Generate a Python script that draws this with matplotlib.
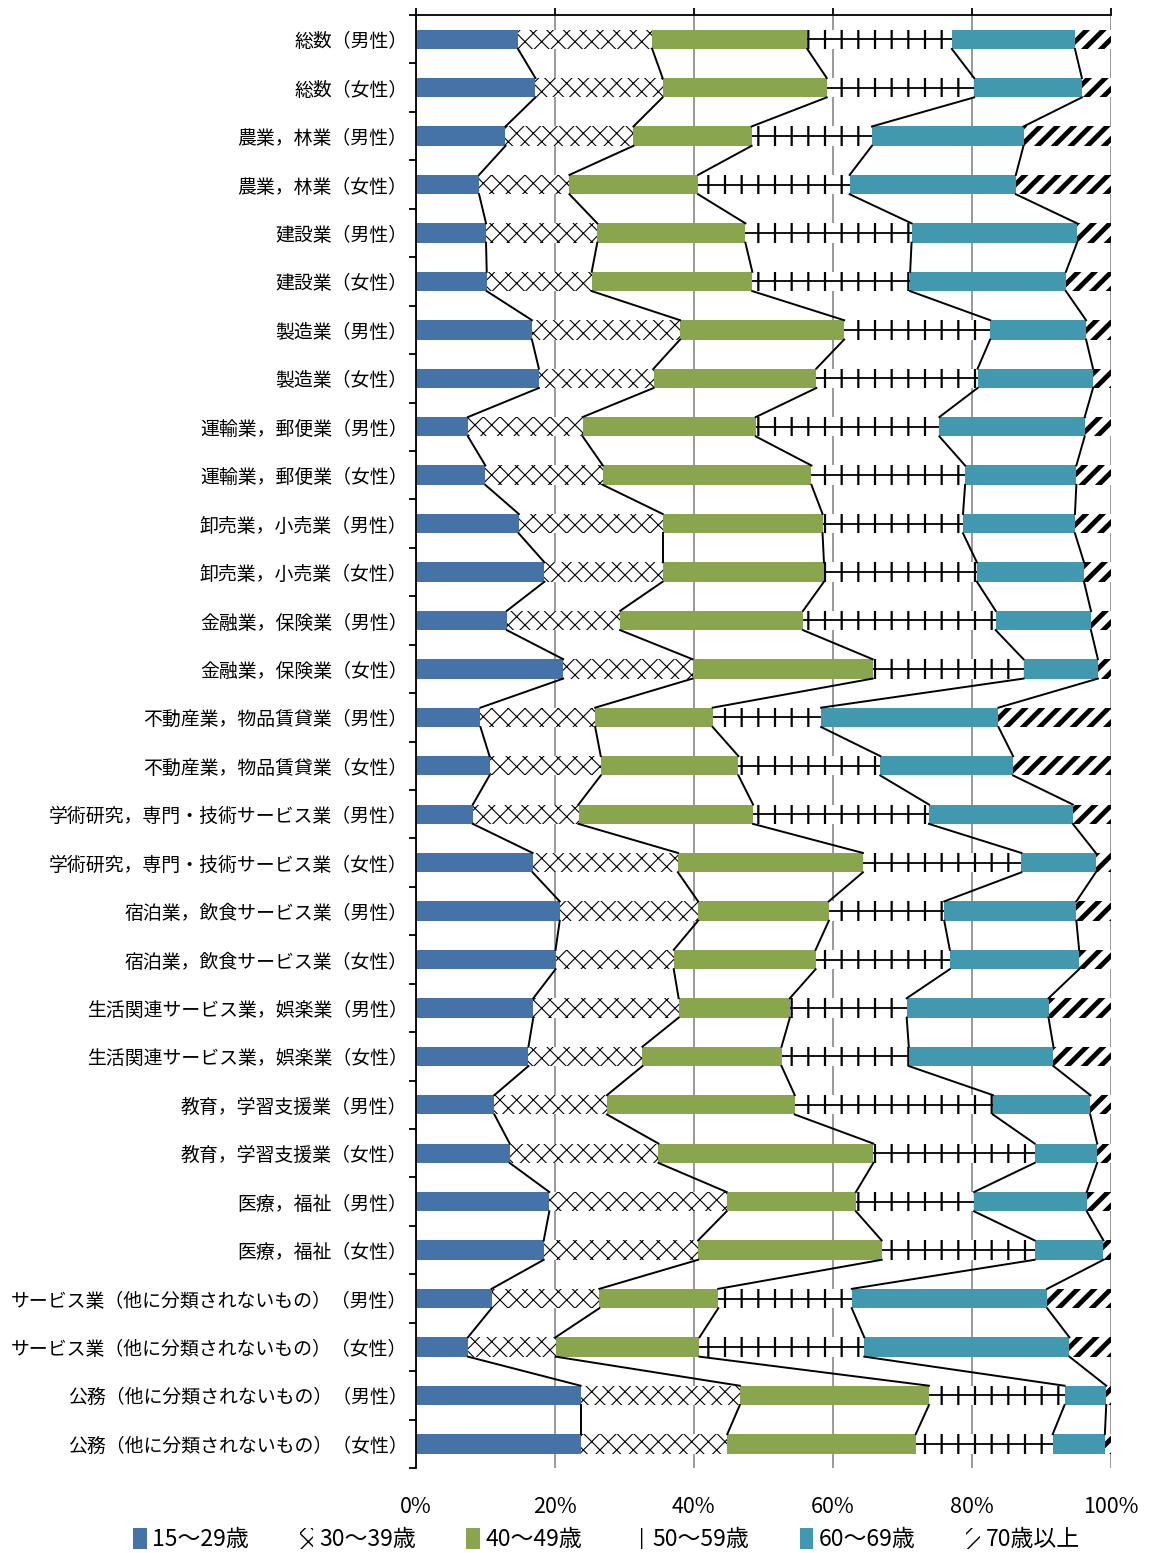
import numpy as np
import matplotlib
matplotlib.use("Agg")
import matplotlib.pyplot as plt

plt.rcParams['font.family'] = ['Noto Sans CJK JP', 'DejaVu Sans']

categories = [
    "総数（男性）", "総数（女性）",
    "農業，林業（男性）", "農業，林業（女性）",
    "建設業（男性）", "建設業（女性）",
    "製造業（男性）", "製造業（女性）",
    "運輸業，郵便業（男性）", "運輸業，郵便業（女性）",
    "卸売業，小売業（男性）", "卸売業，小売業（女性）",
    "金融業，保険業（男性）", "金融業，保険業（女性）",
    "不動産業，物品賃貸業（男性）", "不動産業，物品賃貸業（女性）",
    "学術研究，専門・技術サービス業（男性）", "学術研究，専門・技術サービス業（女性）",
    "宿泊業，飲食サービス業（男性）", "宿泊業，飲食サービス業（女性）",
    "生活関連サービス業，娯楽業（男性）", "生活関連サービス業，娯楽業（女性）",
    "教育，学習支援業（男性）", "教育，学習支援業（女性）",
    "医療，福祉（男性）", "医療，福祉（女性）",
    "サービス業（他に分類されないもの）（男性）", "サービス業（他に分類されないもの）（女性）",
    "公務（他に分類されないもの）（男性）", "公務（他に分類されないもの）（女性）",
]

series_names = ["15〜29歳", "30〜39歳", "40〜49歳", "50〜59歳", "60〜69歳", "70歳以上"]

age_15_29 = [14.7, 17.2, 12.9, 9.1, 10.1, 10.2, 16.7, 17.7, 7.5, 10.0,
             14.8, 18.5, 13.1, 21.2, 9.3, 10.6, 8.2, 16.8, 20.7, 20.1,
             16.9, 16.2, 11.3, 13.5, 19.2, 18.4, 10.9, 7.5, 23.7, 23.7]
age_30_39 = [19.3, 18.3, 18.4, 13.0, 16.0, 15.1, 21.3, 16.5, 16.5, 16.9,
             20.7, 17.0, 16.3, 18.6, 16.5, 16.0, 15.2, 20.9, 19.9, 17.0,
             20.9, 16.4, 16.2, 21.4, 25.5, 22.2, 15.5, 12.6, 22.9, 21.1]
age_40_49 = [22.3, 23.6, 17.0, 18.5, 21.3, 23.1, 23.6, 23.4, 24.9, 30.0,
             23.0, 23.2, 26.3, 25.9, 16.9, 19.8, 25.1, 26.6, 18.8, 20.4,
             16.0, 20.0, 27.0, 30.9, 18.6, 26.4, 17.1, 20.7, 27.2, 27.1]
age_50_59 = [20.8, 21.2, 17.3, 21.8, 23.9, 22.7, 21.0, 23.2, 26.4, 22.1,
             20.2, 22.0, 27.7, 21.7, 15.6, 20.4, 25.3, 22.8, 16.6, 19.3,
             16.8, 18.3, 28.5, 23.2, 17.0, 22.0, 19.2, 23.7, 19.5, 19.7]
age_60_69 = [17.7, 15.5, 21.8, 23.9, 23.8, 22.4, 13.8, 16.6, 20.9, 16.0,
             16.1, 15.4, 13.7, 10.7, 25.5, 19.1, 20.7, 10.7, 19.0, 18.6,
             20.4, 20.8, 14.0, 9.0, 16.2, 9.9, 28.1, 29.5, 6.0, 7.5]
age_70_up = [5.2, 4.2, 12.6, 13.7, 4.9, 6.5, 3.6, 2.6, 3.8, 5.0,
             5.2, 3.9, 2.9, 1.9, 16.2, 14.1, 5.5, 2.2, 5.0, 4.6,
             9.0, 8.3, 3.0, 2.0, 3.5, 1.1, 9.2, 6.0, 0.7, 0.9]

xtick_labels = ["0%", "20%", "40%", "60%", "80%", "100%"]

data = np.array([age_15_29, age_30_39, age_40_49, age_50_59, age_60_69, age_70_up])
cum = np.cumsum(data, axis=0)
left = cum - data

# style per series: face, hatch, hatch linewidth
styles = [
    dict(color="#4572A7", hatch=None, hlw=1.0),
    dict(color="white", hatch="xx", hlw=0.8),
    dict(color="#89A54E", hatch=None, hlw=1.0),
    dict(color="white", hatch="|", hlw=1.6),
    dict(color="#4198AF", hatch=None, hlw=1.0),
    dict(color="white", hatch="//", hlw=3.5),
]

fig = plt.figure(figsize=(11.55, 15.53), dpi=100)
ax = fig.add_axes([0.360, 0.0547, 0.602, 0.9356])

y = np.arange(len(categories))
h = 0.4
handles = []
for k, st in enumerate(styles):
    with plt.rc_context({'hatch.linewidth': st["hlw"]}):
        if st["hatch"]:
            bars = ax.barh(y, data[k], left=left[k], height=h, color=st["color"],
                           hatch=st["hatch"], edgecolor="black", linewidth=0,
                           label=series_names[k], zorder=2)
        else:
            bars = ax.barh(y, data[k], left=left[k], height=h, color=st["color"],
                           linewidth=0, label=series_names[k], zorder=2)
    for p in bars:
        if hasattr(p, "set_hatch_linewidth"):
            p.set_hatch_linewidth(st["hlw"])
    handles.append(bars)

# centre line of the 50-59 pattern
ax.hlines(y, left[3], cum[3], color="black", lw=1.3, zorder=3)

# series lines between neighbouring bars
for k in range(5):
    for i in range(len(categories) - 1):
        ax.plot([cum[k, i], cum[k, i + 1]], [i + h / 2, i + 1 - h / 2],
                color="black", lw=1.4, zorder=3)

ax.set_xlim(0, 100)
ax.set_ylim(len(categories) - 0.5, -0.5)
ax.set_xticks(np.arange(0, 101, 20))
ax.set_xticklabels(xtick_labels, fontsize=15.5)
ax.tick_params(axis="x", top=True, bottom=False, labeltop=False, labelbottom=True,
               direction="out", length=5, width=1.3, pad=15)
ax.set_yticks(y)
ax.set_yticklabels(categories, fontsize=13.6)
ax.set_yticks(np.arange(-0.5, len(categories), 1), minor=True)
ax.tick_params(axis="y", which="major", length=0, pad=6)
ax.tick_params(axis="y", which="minor", length=5, width=1.3, direction="out")

ax.grid(axis="x", color="#888888", lw=1.2)
ax.set_axisbelow(True)
ax.spines["right"].set_visible(False)
ax.spines["bottom"].set_visible(False)
ax.spines["left"].set_linewidth(1.3)
ax.spines["top"].set_linewidth(1.3)

fig.legend(handles=handles, labels=series_names, loc="center", ncol=6,
           bbox_to_anchor=(0.525, 0.0085), frameon=False, fontsize=16.5,
           handlelength=0.6, handleheight=1.0, handletextpad=0.25, columnspacing=2.2)

fig.savefig("out.png", dpi=100)
